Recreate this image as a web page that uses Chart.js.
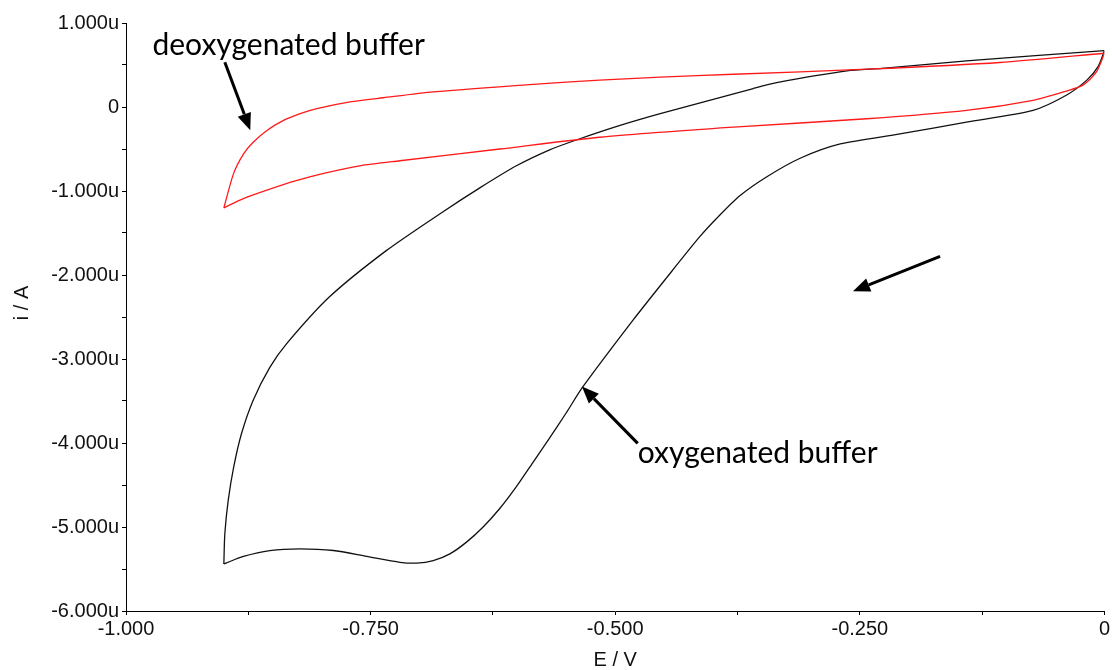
<!DOCTYPE html>
<html>
<head>
<meta charset="utf-8">
<script src="https://cdn.jsdelivr.net/npm/chart.js@4.4.1/dist/chart.umd.min.js"></script>
<style>
  html, body { margin: 0; padding: 0; background: #fff; }
  #cv { display: block; }
</style>
</head>
<body>
<canvas id="cv" width="1112" height="670"></canvas>
<script>
// Cyclic voltammograms, potential E in V, current i in µA (axis labels carry the "u")
// Each scan is split into its cathodic sweep (0 -> -0.9 V) and anodic sweep (-0.9 -> 0 V)

// oxygenated buffer
const oxyCathE = [0, -0.0065, -0.018, -0.039, -0.073, -0.141, -0.209, -0.270, -0.311, -0.345, -0.373, -0.395, -0.414, -0.448, -0.482, -0.533, -0.550, -0.567, -0.584, -0.601, -0.618, -0.635, -0.652, -0.669, -0.686, -0.703, -0.720, -0.754, -0.788, -0.822, -0.853, -0.880, -0.900];
const oxyCathI = [0.67, 0.48, 0.32, 0.14, -0.04, -0.18, -0.32, -0.44, -0.61, -0.83, -1.06, -1.31, -1.55, -2.04, -2.54, -3.33, -3.64, -3.94, -4.23, -4.52, -4.78, -5.00, -5.18, -5.32, -5.40, -5.43, -5.42, -5.35, -5.28, -5.26, -5.28, -5.35, -5.44];
const oxyAnodE = [-0.900, -0.899, -0.8955, -0.890, -0.882, -0.870, -0.853, -0.836, -0.792, -0.734, -0.679, -0.638, -0.601, -0.567, -0.539, -0.495, -0.454, -0.359, -0.335, -0.263, -0.227, -0.141, 0];
const oxyAnodI = [-5.44, -5.08, -4.68, -4.29, -3.89, -3.49, -3.10, -2.82, -2.26, -1.71, -1.27, -0.96, -0.70, -0.51, -0.39, -0.22, -0.08, 0.22, 0.29, 0.43, 0.46, 0.55, 0.67];

// deoxygenated buffer
const deoxyCathE = [0, -0.008, -0.022, -0.039, -0.073, -0.141, -0.243, -0.379, -0.516, -0.618, -0.720, -0.761, -0.798, -0.827, -0.856, -0.880, -0.900];
const deoxyCathI = [0.64, 0.42, 0.26, 0.19, 0.08, -0.04, -0.14, -0.24, -0.36, -0.50, -0.64, -0.70, -0.79, -0.88, -0.99, -1.09, -1.20];
const deoxyAnodE = [-0.900, -0.890, -0.880, -0.870, -0.856, -0.839, -0.822, -0.805, -0.771, -0.737, -0.686, -0.584, -0.516, -0.454, -0.379, -0.243, -0.107, 0];
const deoxyAnodI = [-1.20, -0.79, -0.56, -0.42, -0.28, -0.16, -0.08, -0.02, 0.06, 0.11, 0.18, 0.27, 0.32, 0.355, 0.39, 0.45, 0.53, 0.64];

// axis ranges and tick spacing
const eMin = -1, eMax = 0, eStep = 0.125, eLabelStep = 0.25;
const iMin = -6, iMax = 1, iStep = 0.5, iLabelStep = 1;

// callouts, placed in data units
const calloutTexts = ["deoxygenated buffer", "oxygenated buffer"];
const calloutE = [-0.973, -0.477];
const calloutI = [0.615, -4.242];
const arrowFromE = [-0.899, -0.477, -0.168];
const arrowFromI = [0.532, -4.004, -1.777];
const arrowToE = [-0.873, -0.534, -0.257];
const arrowToI = [-0.277, -3.327, -2.194];

const tickFont = { family: "'Liberation Sans', Arial, sans-serif", size: 20 };
const toPoints = (xs, ys) => xs.map((x, k) => ({ x, y: ys[k] }));

function sweep(xs, ys, color) {
  return {
    data: toPoints(xs, ys),
    showLine: true,
    borderColor: color,
    borderWidth: 1.3,
    pointRadius: 0,
    tension: 0.25,
    fill: false
  };
}

function isMultiple(v, step) {
  const q = v / step;
  return Math.abs(q - Math.round(q)) < 1e-6;
}

function drawArrow(ctx, x0, y0, x1, y1) {
  const ang = Math.atan2(y1 - y0, x1 - x0);
  const headLen = 17, headHalf = 7;
  const bx = x1 - headLen * Math.cos(ang);
  const by = y1 - headLen * Math.sin(ang);
  ctx.beginPath();
  ctx.moveTo(x0, y0);
  ctx.lineTo(bx, by);
  ctx.stroke();
  ctx.beginPath();
  ctx.moveTo(x1, y1);
  ctx.lineTo(bx + headHalf * Math.sin(ang), by - headHalf * Math.cos(ang));
  ctx.lineTo(bx - headHalf * Math.sin(ang), by + headHalf * Math.cos(ang));
  ctx.closePath();
  ctx.fill();
}

// axis titles and the callout arrows/labels
const annotations = {
  id: "annotations",
  afterDraw(chart) {
    const { ctx, chartArea, scales } = chart;
    ctx.save();
    ctx.fillStyle = "#111";
    ctx.font = "20px 'Liberation Sans', Arial, sans-serif";
    ctx.textAlign = "center";
    ctx.textBaseline = "middle";
    ctx.fillText("E / V", (chartArea.left + chartArea.right) / 2, 660);
    ctx.save();
    ctx.translate(22, 303);
    ctx.rotate(-Math.PI / 2);
    ctx.fillText("i / A", 0, 0);
    ctx.restore();

    ctx.fillStyle = "#000";
    ctx.strokeStyle = "#000";
    ctx.lineWidth = 3;
    ctx.font = "30px Lato, 'Open Sans', sans-serif";
    ctx.textAlign = "left";
    ctx.textBaseline = "alphabetic";
    calloutTexts.forEach((t, k) => {
      ctx.fillText(t, scales.x.getPixelForValue(calloutE[k]), scales.y.getPixelForValue(calloutI[k]));
    });
    arrowFromE.forEach((e, k) => {
      drawArrow(ctx,
        scales.x.getPixelForValue(e), scales.y.getPixelForValue(arrowFromI[k]),
        scales.x.getPixelForValue(arrowToE[k]), scales.y.getPixelForValue(arrowToI[k]));
    });
    ctx.restore();
  }
};

new Chart(document.getElementById("cv"), {
  type: "scatter",
  data: {
    datasets: [
      sweep(deoxyCathE, deoxyCathI, "#ff1a1a"),
      sweep(deoxyAnodE, deoxyAnodI, "#ff1a1a"),
      sweep(oxyCathE, oxyCathI, "#111111"),
      sweep(oxyAnodE, oxyAnodI, "#111111")
    ]
  },
  options: {
    responsive: false,
    animation: false,
    layout: { padding: { top: 23, right: 7, left: 0, bottom: 0 } },
    plugins: { legend: { display: false }, tooltip: { enabled: false } },
    scales: {
      x: {
        type: "linear",
        min: eMin,
        max: eMax,
        afterFit: (s) => { s.height = 59; },
        grid: { drawOnChartArea: false, drawTicks: true, tickLength: 4, color: "#000" },
        border: { color: "#000", width: 1 },
        ticks: {
          stepSize: eStep,
          autoSkip: false,
          maxRotation: 0,
          padding: 2,
          color: "#111",
          font: tickFont,
          callback: (v) => {
            if (!isMultiple(v, eLabelStep)) return "";
            return Math.abs(v) < 1e-9 ? "0" : v.toFixed(3);
          }
        }
      },
      y: {
        type: "linear",
        min: iMin,
        max: iMax,
        afterFit: (s) => { s.width = 126; },
        grid: { drawOnChartArea: false, drawTicks: true, tickLength: 4, color: "#000" },
        border: { color: "#000", width: 1 },
        ticks: {
          stepSize: iStep,
          autoSkip: false,
          padding: 3,
          color: "#111",
          font: tickFont,
          callback: (v) => {
            if (!isMultiple(v, iLabelStep)) return "";
            return Math.abs(v) < 1e-9 ? "0" : v.toFixed(3) + "u";
          }
        }
      }
    }
  },
  plugins: [annotations]
});
</script>
</body>
</html>
